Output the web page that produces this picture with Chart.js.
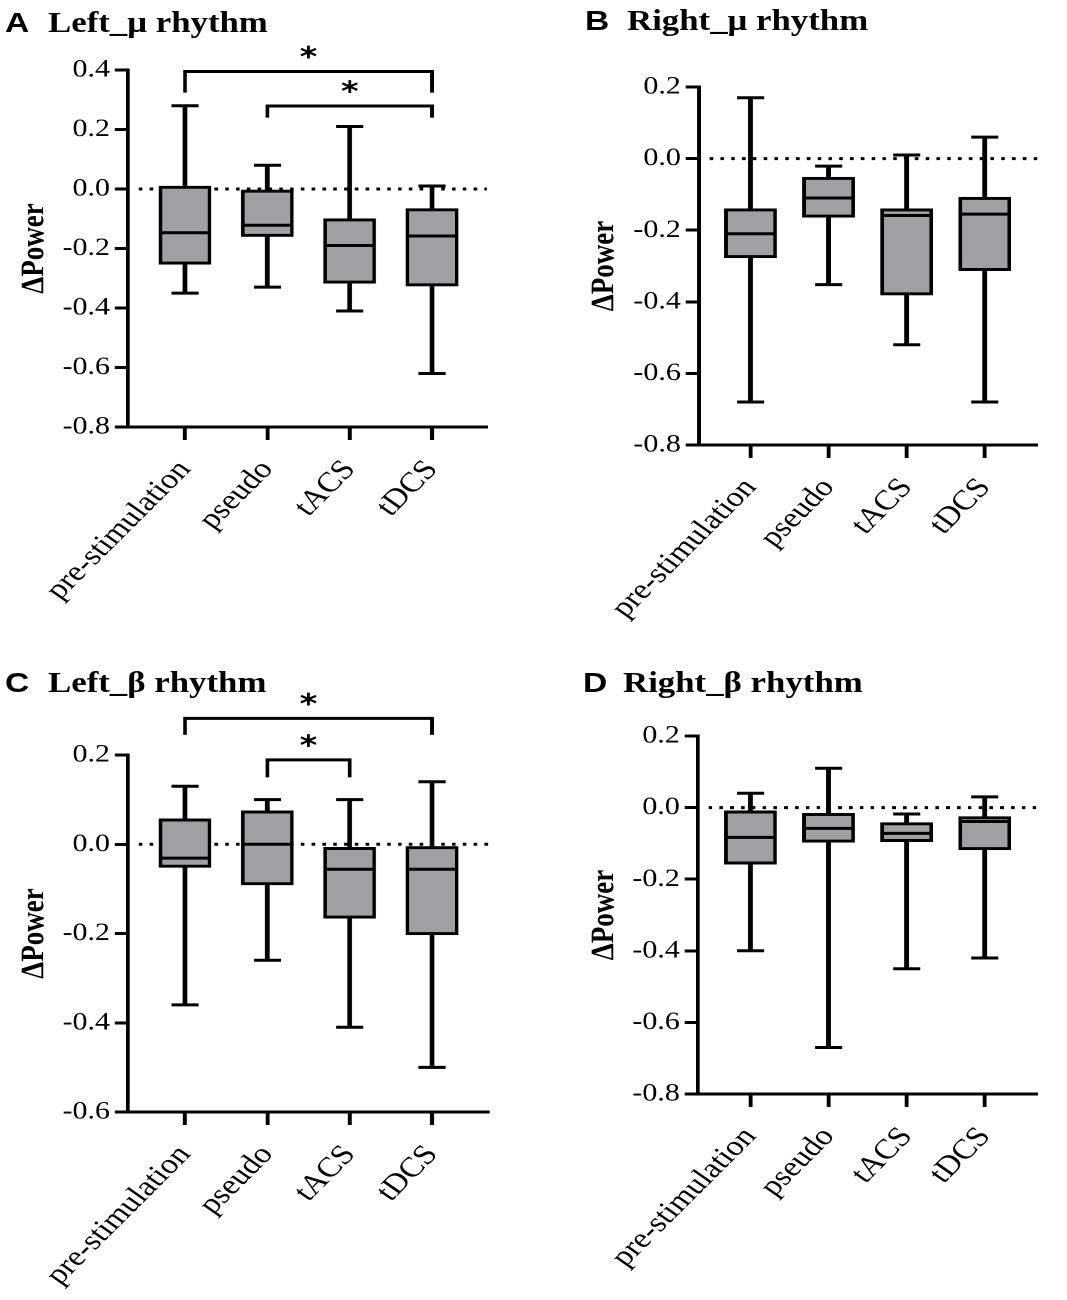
<!DOCTYPE html>
<html>
<head>
<meta charset="utf-8">
<script src="https://cdn.jsdelivr.net/npm/chart.js@4.4.1/dist/chart.umd.min.js"></script>
<style>
  html, body { margin: 0; padding: 0; background: #fff; }
  /* the source figure is drawn 1.2x wider than tall, so the whole page is stretched */
  #page { position: relative; width: 890px; height: 1300px; transform: scaleX(1.2); transform-origin: 0 0; }
  canvas { position: absolute; }
  .title { position: absolute; white-space: nowrap; font: bold 29px "Liberation Serif", "Times New Roman", serif; line-height: 29px; color: #000; }
  .title .letter { font: bold 28px "Liberation Sans", Arial, sans-serif; line-height: 29px; }
</style>
</head>
<body>
<div id="page"></div>
<script>
/** DATA **/

var categories = ["pre-stimulation", "pseudo", "tACS", "tDCS"];

// A  Left_mu rhythm
var leftMuMin    = [-0.35, -0.33, -0.41, -0.62];
var leftMuQ1     = [-0.253, -0.16, -0.317, -0.326];
var leftMuMedian = [-0.147, -0.122, -0.19, -0.158];
var leftMuQ3     = [0.01, -0.003, -0.10, -0.066];
var leftMuMax    = [0.28, 0.08, 0.21, 0.01];
var leftMuRange  = [-0.8, 0.4];
var leftMuSigFrom = [0, 1];
var leftMuSigTo   = [3, 3];
var leftMuSigTop  = [0.395, 0.279];
var leftMuSigDrop = [0.324, 0.24];

// B  Right_mu rhythm
var rightMuMin    = [-0.68, -0.352, -0.52, -0.68];
var rightMuQ1     = [-0.277, -0.164, -0.381, -0.313];
var rightMuMedian = [-0.21, -0.11, -0.159, -0.155];
var rightMuQ3     = [-0.14, -0.052, -0.14, -0.108];
var rightMuMax    = [0.17, -0.021, 0.01, 0.06];
var rightMuRange  = [-0.8, 0.2];

// C  Left_beta rhythm
var leftBetaMin    = [-0.36, -0.26, -0.41, -0.50];
var leftBetaQ1     = [-0.052, -0.091, -0.166, -0.203];
var leftBetaMedian = [-0.031, 0.0, -0.056, -0.056];
var leftBetaQ3     = [0.057, 0.075, -0.007, -0.005];
var leftBetaMax    = [0.13, 0.10, 0.10, 0.14];
var leftBetaRange  = [-0.6, 0.2];
var leftBetaSigFrom = [0, 1];
var leftBetaSigTo   = [3, 2];
var leftBetaSigTop  = [0.282, 0.189];
var leftBetaSigDrop = [0.245, 0.15];

// D  Right_beta rhythm
var rightBetaMin    = [-0.40, -0.67, -0.45, -0.42];
var rightBetaQ1     = [-0.158, -0.097, -0.095, -0.118];
var rightBetaMedian = [-0.083, -0.058, -0.072, -0.039];
var rightBetaQ3     = [-0.009, -0.016, -0.042, -0.025];
var rightBetaMax    = [0.04, 0.11, -0.018, 0.03];
var rightBetaRange  = [-0.8, 0.2];

/** LAYOUT (pixels of the original figure) **/

var S = 1.2;
var PANEL_H = 650;
var X_AXIS_H = 188;
var INK = '#000';
var BOX_FILL = '#a0a0a4';
var SERIF = '"Liberation Serif", "Times New Roman", serif';

var panels = [
    { letter: 'A', name: 'Left_\u03bc rhythm', left: 0, top: 0, width: 533,
      axisX: 128, axisR: 487, cat0: 185, cat3: 432, yTop: 70, yBot: 427,
      titlePad: 13, letterX: 5, nameX: 48, baseline: 32,
      range: leftMuRange, min: leftMuMin, q1: leftMuQ1, med: leftMuMedian, q3: leftMuQ3, max: leftMuMax,
      sig: { from: leftMuSigFrom, to: leftMuSigTo, top: leftMuSigTop, drop: leftMuSigDrop } },
    { letter: 'B', name: 'Right_\u03bc rhythm', left: 533, top: 0, width: 534,
      axisX: 699, axisR: 1059, cat0: 754, cat3: 1003, yTop: 87, yBot: 445,
      titlePad: 44, letterX: 585, nameX: 627, baseline: 30,
      range: rightMuRange, min: rightMuMin, q1: rightMuQ1, med: rightMuMedian, q3: rightMuQ3, max: rightMuMax,
      sig: { from: [], to: [], top: [], drop: [] } },
    { letter: 'C', name: 'Left_\u03b2 rhythm', left: 0, top: 650, width: 533,
      axisX: 128, axisR: 489, cat0: 185, cat3: 432, yTop: 755, yBot: 1112,
      titlePad: 13, letterX: 5, nameX: 48, baseline: 692,
      range: leftBetaRange, min: leftBetaMin, q1: leftBetaQ1, med: leftBetaMedian, q3: leftBetaQ3, max: leftBetaMax,
      sig: { from: leftBetaSigFrom, to: leftBetaSigTo, top: leftBetaSigTop, drop: leftBetaSigDrop } },
    { letter: 'D', name: 'Right_\u03b2 rhythm', left: 533, top: 650, width: 534,
      axisX: 698, axisR: 1059, cat0: 754, cat3: 1003, yTop: 736, yBot: 1094,
      titlePad: 44, letterX: 583, nameX: 623, baseline: 692,
      range: rightBetaRange, min: rightBetaMin, q1: rightBetaQ1, med: rightBetaMedian, q3: rightBetaQ3, max: rightBetaMax,
      sig: { from: [], to: [], top: [], drop: [] } }
];

/** dotted zero line, significance asterisks **/
var sigMarks = {
    id: 'sigMarks',
    beforeDatasetsDraw: function (chart) {
        var ctx = chart.ctx, area = chart.chartArea;
        var y0 = chart.scales.y.getPixelForValue(0);
        ctx.save();
        ctx.strokeStyle = INK;
        ctx.lineWidth = 3;
        ctx.setLineDash([3, 6]);
        ctx.beginPath();
        ctx.moveTo(area.left + 9, y0);
        ctx.lineTo(area.right, y0);
        ctx.stroke();
        ctx.restore();
    },
    afterDatasetsDraw: function (chart, args, opts) {
        var ctx = chart.ctx, x = chart.scales.x, y = chart.scales.y;
        ctx.save();
        ctx.fillStyle = INK;
        ctx.font = 'bold 28px "DejaVu Sans", sans-serif';
        ctx.textAlign = 'center';
        ctx.textBaseline = 'alphabetic';
        opts.from.forEach(function (f, i) {
            var cx = (x.getPixelForValue(f) + x.getPixelForValue(opts.to[i])) / 2;
            var cy = y.getPixelForValue(opts.top[i]) - 21;
            ctx.fillText('*', cx, cy + 0.56 * 28);
        });
        ctx.restore();
    }
};

function fmt(v) {
    return Math.abs(v) < 1e-9 ? '0.0' : v.toFixed(1);
}

function pts(arr) {
    return arr.map(function (v, i) { return { x: i, y: v }; });
}

var page = document.getElementById('page');

panels.forEach(function (p) {
    var title = document.createElement('div');
    title.className = 'title';
    title.style.left = (p.letterX / S) + 'px';
    title.style.top = (p.baseline - 24.3) + 'px';
    var gap = (p.nameX - p.letterX) / S - 20.2;
    title.innerHTML = '<span class="letter">' + p.letter + '</span><span style="margin-left:' + gap + 'px">' + p.name + '</span>';

    var w = Math.round(p.width / S);
    var canvas = document.createElement('canvas');
    canvas.width = w;
    canvas.height = PANEL_H;
    canvas.style.left = (p.left / S) + 'px';
    canvas.style.top = p.top + 'px';
    page.appendChild(canvas);
    page.appendChild(title);

    var yW = (p.axisX - p.left) / S;
    var padR = w - (p.axisR - p.left) / S;
    var padT = p.yTop - p.top;
    var padB = Math.max(0, PANEL_H - (p.yBot - p.top) - X_AXIS_H);
    var unit = (p.cat3 - p.cat0) / 3 / S;
    var xMin = -((p.cat0 - p.axisX) / S) / unit;
    var xMax = 3 + ((p.axisR - p.cat3) / S) / unit;

    var datasets = [
        {   // whiskers
            type: 'bar',
            data: categories.map(function (c, i) { return { x: i, y: [p.min[i], p.max[i]] }; }),
            backgroundColor: INK,
            borderWidth: 0,
            barThickness: 3.3,
            grouped: false,
            order: 4
        },
        {   // boxes
            type: 'bar',
            data: categories.map(function (c, i) { return { x: i, y: [p.q1[i], p.q3[i]] }; }),
            backgroundColor: BOX_FILL,
            borderColor: INK,
            borderWidth: 3,
            borderSkipped: false,
            barThickness: 43.3,
            grouped: false,
            order: 3
        },
        {   // medians
            type: 'scatter',
            data: pts(p.med),
            pointStyle: 'line',
            pointRadius: 21.5,
            pointBorderWidth: 3,
            pointBorderColor: INK,
            clip: false,
            order: 2
        },
        {   // caps
            type: 'scatter',
            data: pts(p.min).concat(pts(p.max)),
            pointStyle: 'line',
            pointRadius: 11.3,
            pointBorderWidth: 3,
            pointBorderColor: INK,
            clip: false,
            order: 2
        }
    ];

    p.sig.from.forEach(function (f, i) {
        var t = p.sig.to[i];
        datasets.push({
            type: 'line',
            data: [
                { x: f, y: p.sig.drop[i] }, { x: f, y: p.sig.top[i] },
                { x: t, y: p.sig.top[i] }, { x: t, y: p.sig.drop[i] }
            ],
            borderColor: INK,
            borderWidth: 3,
            borderJoinStyle: 'miter',
            pointRadius: 0,
            fill: false,
            tension: 0,
            clip: false,
            order: 1
        });
    });

    new Chart(canvas, {
        type: 'bar',
        data: { datasets: datasets },
        options: {
            responsive: false,
            devicePixelRatio: 2,
            animation: false,
            events: [],
            layout: { padding: { left: 0, top: padT, right: padR, bottom: padB } },
            plugins: {
                legend: { display: false },
                tooltip: { enabled: false },
                sigMarks: p.sig
            },
            scales: {
                x: {
                    type: 'linear',
                    min: xMin,
                    max: xMax,
                    offset: false,
                    afterBuildTicks: function (s) {
                        s.ticks = categories.map(function (c, i) { return { value: i }; });
                    },
                    afterFit: function (s) { s.height = X_AXIS_H; },
                    grid: { offset: false, drawOnChartArea: false, drawTicks: true, tickLength: 13, tickWidth: 3.3, tickColor: INK },
                    border: { display: true, color: INK, width: 3 },
                    ticks: {
                        autoSkip: false,
                        minRotation: 50,
                        maxRotation: 50,
                        padding: 14,
                        color: INK,
                        font: { family: SERIF, size: 28 },
                        callback: function (v) { return categories[v]; }
                    }
                },
                y: {
                    min: p.range[0],
                    max: p.range[1],
                    afterFit: function (s) { s.width = yW; },
                    grid: { drawOnChartArea: false, drawTicks: true, tickLength: 11, tickWidth: 3, tickColor: INK },
                    border: { display: true, color: INK, width: 3 },
                    ticks: {
                        stepSize: 0.2,
                        padding: 4,
                        color: INK,
                        font: { family: SERIF, size: 25 },
                        callback: function (v) { return fmt(v); }
                    },
                    title: {
                        display: true,
                        text: '\u0394Power',
                        color: INK,
                        font: { family: SERIF, size: 27, weight: 'bold' },
                        padding: { top: p.titlePad, bottom: 0 }
                    }
                }
            }
        },
        plugins: [sigMarks]
    });
});
</script>
</body>
</html>
